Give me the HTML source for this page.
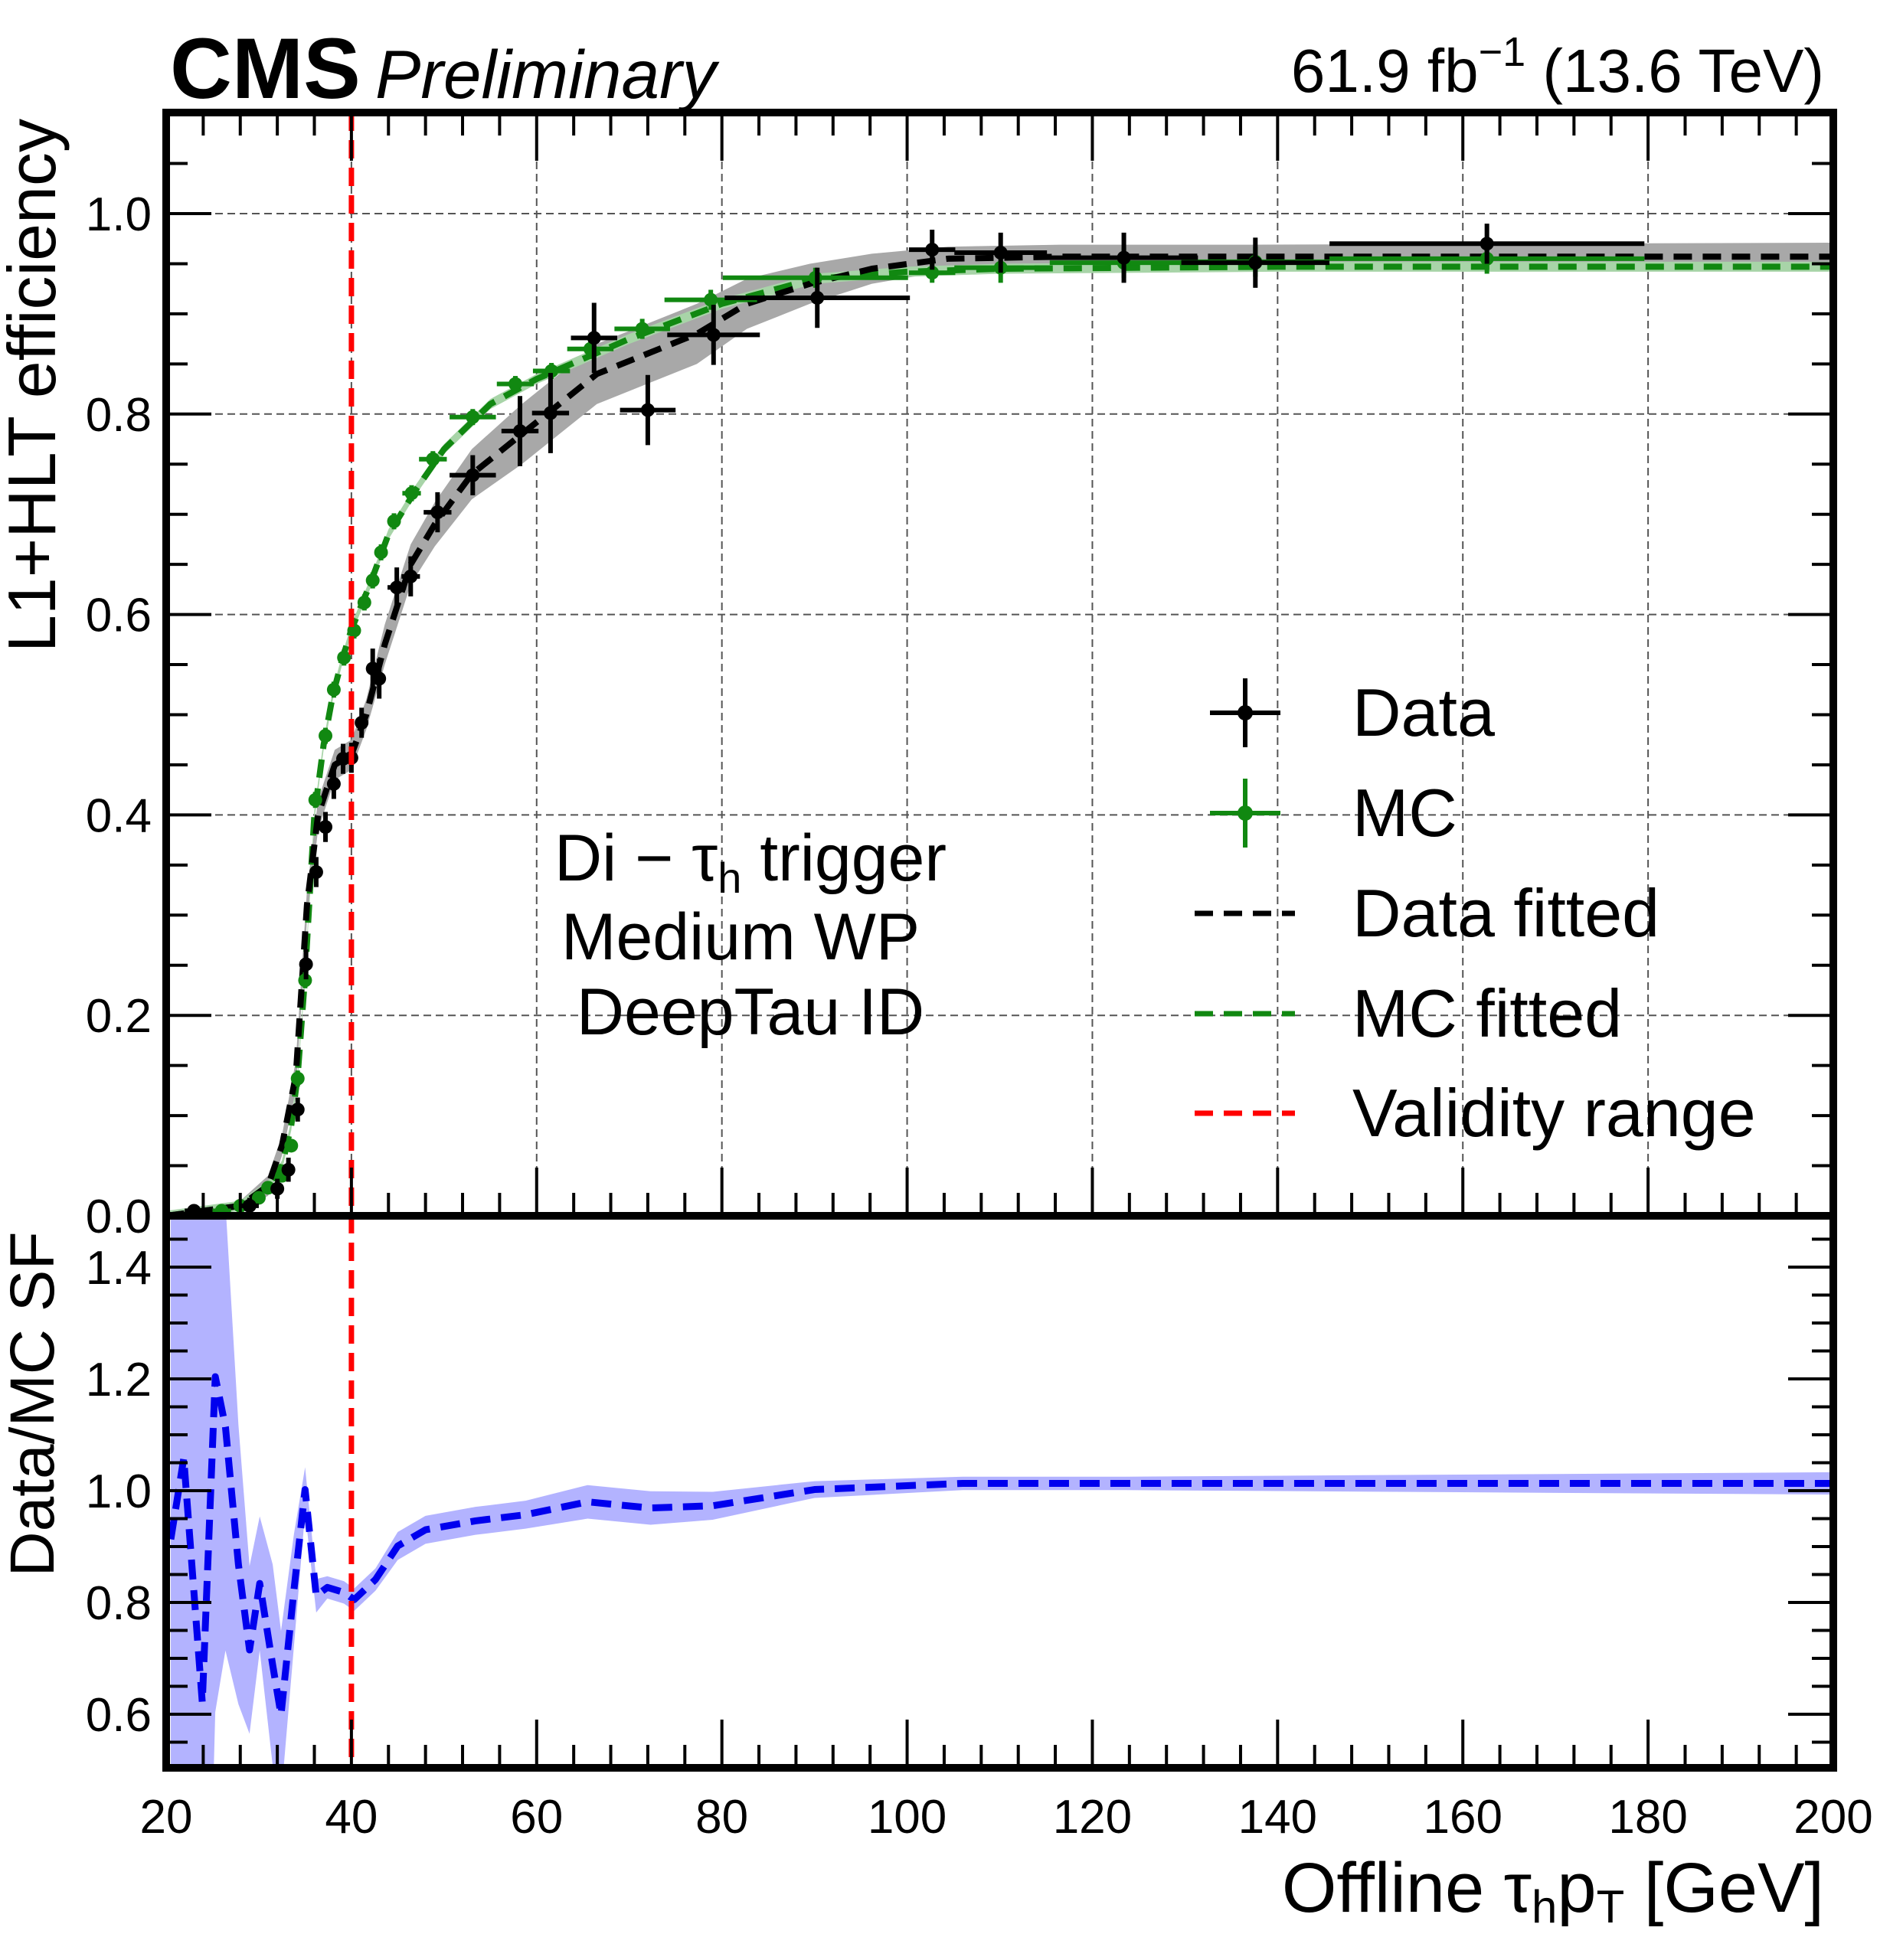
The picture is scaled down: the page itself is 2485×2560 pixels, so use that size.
<!DOCTYPE html>
<html><head><meta charset="utf-8"><style>
html,body{margin:0;padding:0;background:#fff;width:2485px;height:2560px;overflow:hidden}
svg{display:block;font-family:"Liberation Sans",Arial,sans-serif;overflow:hidden}
</style></head><body>
<svg id="c" width="2485" height="2560" viewBox="0 0 2485 2560" xmlns="http://www.w3.org/2000/svg">
<text x="222" y="128" font-size="112" font-weight="bold">CMS</text>
<text x="490" y="128" font-size="89" font-style="italic">Preliminary</text>
<text x="2382" y="120" font-size="80" text-anchor="end">61.9 fb<tspan dy="-34" font-size="54">−1</tspan><tspan dy="34"> (13.6 TeV)</tspan></text>
<text transform="translate(72,155) rotate(-90)" font-size="88" text-anchor="end">L1+HLT efficiency</text>
<text transform="translate(70,1834) rotate(-90)" font-size="82" text-anchor="middle">Data/MC SF</text>
<text x="2382" y="2497" font-size="92" text-anchor="end">Offline τ<tspan font-size="60" dy="14">h</tspan><tspan dy="-14">p</tspan><tspan font-size="60" dy="14">T</tspan><tspan dy="-14"> [GeV]</tspan></text>
<g id="plot"></g>
</svg>
<script>
// ---- data ----
const dataX=[23,29,32.0,33.2,34.2,35.1,36.2,37.2,38.1,39.1,40.0,41.1,42.3,43.0,44.9,46.4,49.3,53.1,58.2,61.5,66.2,72.0,79.1,90.3,102.7,110.1,123.4,137.6,162.6];
const dataY=[0.005,0.01,0.027,0.046,0.106,0.251,0.343,0.388,0.431,0.456,0.457,0.492,0.546,0.536,0.627,0.638,0.702,0.739,0.783,0.801,0.876,0.804,0.879,0.916,0.964,0.961,0.956,0.951,0.970];
const dataXErr=[1,1,0.5,0.5,0.5,0.5,0.5,0.5,0.5,0.5,0.5,0.5,0.5,0.5,1,1,1.5,2.5,2,2,2.5,3,5,10,2.5,5,8,8,17];
const dataYErr=[0.005,0.008,0.01,0.012,0.012,0.015,0.015,0.015,0.015,0.015,0.015,0.015,0.02,0.02,0.02,0.02,0.02,0.02,0.035,0.04,0.035,0.035,0.03,0.03,0.02,0.02,0.025,0.025,0.02];
const mcX=[23,26,28,30,31,32.5,33.5,34.2,35.0,36.1,37.2,38.1,39.2,40.3,41.4,42.3,43.2,44.6,46.5,48.8,53.1,57.7,61.6,65.8,71.4,78.8,90.1,102.7,110.1,123.4,137.6,162.6];
const mcY=[0.002,0.005,0.01,0.018,0.028,0.04,0.07,0.137,0.235,0.415,0.479,0.525,0.557,0.584,0.612,0.634,0.662,0.693,0.721,0.755,0.797,0.830,0.843,0.865,0.885,0.914,0.936,0.941,0.946,0.951,0.952,0.955];
const mcXErr=[1,1,0.5,0.5,0.5,0.5,0.5,0.5,0.5,0.5,0.5,0.5,0.5,0.5,0.5,0.5,0.5,0.5,1,1.5,2.5,2,2,2.5,3,5,10,2.5,5,8,8,17];
const mcYErr=[0.003,0.003,0.004,0.005,0.005,0.006,0.006,0.008,0.008,0.008,0.008,0.008,0.008,0.008,0.008,0.008,0.008,0.008,0.008,0.008,0.008,0.008,0.008,0.01,0.01,0.01,0.01,0.01,0.015,0.015,0.015,0.015];
const dfitX=[20,28,31,32.5,34,35.2,36.4,38.2,40,41.6,43.6,46.4,49,53,58.4,63.8,66.5,71.9,77.3,82.7,89.5,96.2,104.4,116.5,137,200];
const dfitY=[0,0.01,0.03,0.07,0.14,0.31,0.40,0.45,0.46,0.50,0.57,0.65,0.69,0.74,0.78,0.82,0.84,0.86,0.88,0.91,0.93,0.945,0.955,0.957,0.957,0.957];
const dfitErr=[0,0.005,0.01,0.01,0.015,0.015,0.015,0.015,0.015,0.015,0.02,0.02,0.022,0.025,0.03,0.03,0.03,0.03,0.03,0.025,0.02,0.015,0.012,0.012,0.012,0.014];
const mfitX=[20,28,31,32.5,33.5,34.2,35,36,37,38,39,40,42,44,47,50,55,60,65,70,80,90,100,110,140,200];
const mfitY=[0,0.01,0.03,0.05,0.09,0.14,0.24,0.40,0.47,0.52,0.555,0.585,0.63,0.68,0.725,0.765,0.81,0.835,0.855,0.875,0.91,0.935,0.942,0.945,0.947,0.947];
const sfX=[20.5,21.9,23.9,25.3,26.4,27.8,29,30.1,31.5,32.4,33.8,35,36.2,37.4,39.2,40.3,42.6,45,48,53.4,58.8,65.5,72.3,79,90,106,123.6,200];
const sfY=[0.913,1.058,0.621,1.204,1.114,0.868,0.715,0.834,0.688,0.599,0.823,1.002,0.812,0.827,0.818,0.805,0.841,0.901,0.930,0.946,0.957,0.980,0.969,0.973,1.002,1.013,1.013,1.013];
const sfErr=[0.9,0.9,0.9,0.6,0.4,0.25,0.15,0.12,0.18,0.15,0.1,0.04,0.03,0.02,0.02,0.02,0.02,0.025,0.025,0.025,0.025,0.03,0.03,0.025,0.015,0.012,0.012,0.02];
const xTicks=[20,40,60,80,100,120,140,160,180,200];
const yTopTicks=[0.0,0.2,0.4,0.6,0.8,1.0];
const yBotTicks=[0.6,0.8,1.0,1.2,1.4];
const validity=40;
// ---- axes ----
const L=217,R=2394,T=147,M=1588,B=2309;
const sx=v=>L+(v-20)/180*(R-L);
const syT=v=>M-v*(M-279);
const syB=v=>1947-(v-1.0)*(1947-1655)/0.4;
const NS="http://www.w3.org/2000/svg";
const g=document.getElementById('plot');
function el(tag,attrs,parent){const e=document.createElementNS(NS,tag);for(const k in attrs)e.setAttribute(k,attrs[k]);(parent||g).appendChild(e);return e;}
const clipD=el('defs',{});
const cp=el('clipPath',{id:'ct'},clipD);el('rect',{x:L,y:T,width:R-L,height:M-T},cp);
const cb=el('clipPath',{id:'cb'},clipD);el('rect',{x:L,y:M,width:R-L,height:B-M},cb);
const gt=el('g',{'clip-path':'url(#ct)'});
const gb=el('g',{'clip-path':'url(#cb)'});
// grid
for(const t of xTicks){if(t===20||t===200)continue;
 const l=el('line',{x1:sx(t),x2:sx(t),y1:T,y2:M,stroke:'#555','stroke-width':2,'stroke-dasharray':'10 6'},gt);
 
 }
for(const t of yTopTicks){if(t===0)continue;
 const l=el('line',{x1:L,x2:R,y1:syT(t),y2:syT(t),stroke:'#555','stroke-width':2,'stroke-dasharray':'10 6'},gt);
 
 }
function band(xs,ys,es,sy,fill,parent,name){
 let up=xs.map((x,i)=>sx(x)+','+sy(ys[i]+es[i]));
 let dn=xs.map((x,i)=>sx(x)+','+sy(ys[i]-es[i])).reverse();
 const p=el('polygon',{points:up.concat(dn).join(' '),fill:fill},parent);
 
 }
function line(xs,ys,sy,stroke,w,dash,parent,name){
 const p=el('polyline',{points:xs.map((x,i)=>sx(x)+','+sy(ys[i])).join(' '),fill:'none',stroke:stroke,'stroke-width':w,'stroke-dasharray':dash,'stroke-linejoin':'round'},parent);
 
 }
band(dfitX,dfitY,dfitErr,syT,'#a8a8a8',gt,'data-fit-band');
band(mfitX,mfitY,mfitX.map(()=>0.005),syT,'#a8d4a8',gt,'mc-fit-band');
line(mfitX,mfitY,syT,'#118811',8,'24 14',gt,'mc-fit-line');
line(dfitX,dfitY,syT,'#000',8,'24 14',gt,'data-fit-line');
function points(xs,ys,xe,ye,col,name){
 xs.forEach((x,i)=>{
  const gg=el('g',{},gt);
  
  
  el('line',{x1:sx(x-xe[i]),x2:sx(x+xe[i]),y1:syT(ys[i]),y2:syT(ys[i]),stroke:col,'stroke-width':6},gg);
  el('line',{x1:sx(x),x2:sx(x),y1:syT(ys[i]-ye[i]),y2:syT(ys[i]+ye[i]),stroke:col,'stroke-width':6},gg);
  el('circle',{cx:sx(x),cy:syT(ys[i]),r:9,fill:col},gg);
 });}
points(mcX,mcY,mcXErr,mcYErr,'#118811','mc-point');
points(dataX,dataY,dataXErr,dataYErr,'#000','data-point');
band(sfX,sfY,sfErr,syB,'#b3b3ff',gb,'sf-band');
line(sfX,sfY,syB,'#0000ee',9,'26 14',gb,'sf-line');
// validity
const vl=el('line',{x1:sx(validity),x2:sx(validity),y1:T,y2:B,stroke:'#ff0000','stroke-width':7,'stroke-dasharray':'24 12'});


// ticks
const tk=el('g',{stroke:'#000','stroke-width':4});
for(let v=20;v<=200;v+=4){const maj=(v%20===0);const len=maj?63:30;
 for(const yb of [M,B]){el('line',{x1:sx(v),x2:sx(v),y1:yb,y2:yb-len},tk);}
 el('line',{x1:sx(v),x2:sx(v),y1:T,y2:T+len},tk);}
for(let k=0;k<=22;k++){const v=k*0.05;const maj=(k%4===0);const len=maj?59:28;
 el('line',{x1:L,x2:L+len,y1:syT(v),y2:syT(v)},tk);el('line',{x1:R,x2:R-len,y1:syT(v),y2:syT(v)},tk);}
for(let k=11;k<=29;k++){const v=k*0.05;const maj=(k%4===0);const len=maj?59:28;const y=syB(v);if(y<M||y>B)continue;
 el('line',{x1:L,x2:L+len,y1:y,y2:y},tk);el('line',{x1:R,x2:R-len,y1:y,y2:y},tk);}
// frames
const f1=el('rect',{x:L,y:T,width:R-L,height:M-T,fill:'none',stroke:'#000','stroke-width':10});


const f2=el('rect',{x:L,y:M,width:R-L,height:B-M,fill:'none',stroke:'#000','stroke-width':10});


// tick labels
function txt(x,y,s,size,anchor,name){const t=el('text',{x:x,y:y,'font-size':size,'text-anchor':anchor});t.textContent=s;
 
 return t;}
for(const t of xTicks)txt(sx(t),2394,String(t),62,'middle','x-tick-label');
for(const t of yTopTicks)txt(198,syT(t)+22,t.toFixed(1),62,'end','y-tick-label-top');
for(const t of yBotTicks)txt(198,syB(t)+22,t.toFixed(1),62,'end','y-tick-label-bottom');
// annotation
txt(980,1150,'',86,'middle','trigger-label').innerHTML='Di − τ<tspan font-size="56" dy="16">h</tspan><tspan dy="-16"> trigger</tspan>';
txt(967,1253,'Medium WP',86,'middle','wp-label');
txt(980,1351,'DeepTau ID',86,'middle','id-label');
// legend
const ly=[931,1062,1193,1324,1454];
const lg=el('g',{});


el('line',{x1:1580,x2:1672,y1:ly[0],y2:ly[0],stroke:'#000','stroke-width':6},lg);
el('line',{x1:1626,x2:1626,y1:ly[0]-45,y2:ly[0]+45,stroke:'#000','stroke-width':6},lg);
el('circle',{cx:1626,cy:ly[0],r:10,fill:'#000'},lg);
el('line',{x1:1580,x2:1672,y1:ly[1],y2:ly[1],stroke:'#118811','stroke-width':6},lg);
el('line',{x1:1626,x2:1626,y1:ly[1]-45,y2:ly[1]+45,stroke:'#118811','stroke-width':6},lg);
el('circle',{cx:1626,cy:ly[1],r:10,fill:'#118811'},lg);
el('line',{x1:1560,x2:1691,y1:ly[2],y2:ly[2],stroke:'#000','stroke-width':7,'stroke-dasharray':'24 14'},lg);
el('line',{x1:1560,x2:1691,y1:ly[3],y2:ly[3],stroke:'#118811','stroke-width':7,'stroke-dasharray':'24 14'},lg);
el('line',{x1:1560,x2:1691,y1:ly[4],y2:ly[4],stroke:'#ff0000','stroke-width':7,'stroke-dasharray':'24 14'},lg);
['Data','MC','Data fitted','MC fitted','Validity range'].forEach((s,i)=>txt(1766,ly[i]+30,s,88,'start','legend-entry'));
</script>
</body></html>
